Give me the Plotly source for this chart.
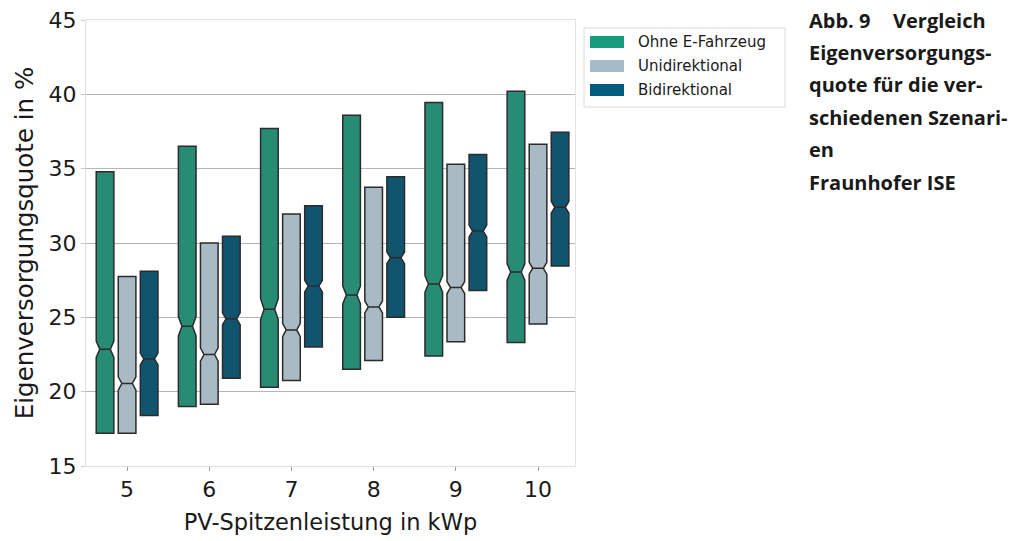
import plotly.graph_objects as go

# ---------------- data ----------------
categories = ["5", "6", "7", "8", "9", "10"]
series_names = ["Ohne E-Fahrzeug", "Unidirektional", "Bidirektional"]

ohne_min = [17.2, 19.0, 20.3, 21.5, 22.4, 23.3]
ohne_max = [34.8, 36.5, 37.7, 38.6, 39.45, 40.2]
ohne_med = [22.85, 24.4, 25.55, 26.5, 27.25, 28.05]
ohne_notch = [0.55, 0.65, 0.7, 0.6, 0.55, 0.55]

uni_min = [17.2, 19.15, 20.75, 22.1, 23.35, 24.55]
uni_max = [27.75, 30.0, 31.95, 33.75, 35.3, 36.65]
uni_med = [20.55, 22.5, 24.15, 25.7, 27.0, 28.3]
uni_notch = [0.45, 0.45, 0.45, 0.4, 0.4, 0.4]

bidi_min = [18.4, 20.9, 23.0, 25.0, 26.8, 28.45]
bidi_max = [28.1, 30.45, 32.5, 34.45, 35.95, 37.45]
bidi_med = [22.2, 24.9, 27.1, 29.0, 30.8, 32.4]
bidi_notch = [0.4, 0.4, 0.4, 0.4, 0.4, 0.4]

caption_lines = ["Eigenversorgungs-", "quote für die ver-",
                 "schiedenen Szenari-", "en", "Fraunhofer ISE"]

# ---------------- style ----------------
box_fill = ["#288b74", "#aabac4", "#10546f"]
legend_fill = ["#179c7d", "#a6bbc8", "#005b7f"]
W, H = 1011, 541
L, R, T, B = 86, 575, 20, 466


def px_x(px):
    return (px - L) / (R - L)


def px_y(py):
    return (B - py) / (B - T)


fig = go.Figure()
data = [
    (ohne_min, ohne_max, ohne_med, ohne_notch),
    (uni_min, uni_max, uni_med, uni_notch),
    (bidi_min, bidi_max, bidi_med, bidi_notch),
]
for i, (mn, mx, md, nt) in enumerate(data):
    fig.add_trace(go.Box(
        name=series_names[i],
        x=categories,
        q1=mn, q3=mx, median=md,
        lowerfence=mn, upperfence=mx,
        notchspan=nt, notched=True, notchwidth=0.2,
        fillcolor=box_fill[i],
        line=dict(color="#2b2b2b", width=1.5),
        boxpoints=False,
        whiskerwidth=0,
        showlegend=False,
        hoverinfo="skip",
    ))

fig.update_layout(
    width=W, height=H,
    margin=dict(l=L, r=W - R, t=T, b=H - B, autoexpand=False),
    paper_bgcolor="white", plot_bgcolor="white",
    boxmode="group", boxgap=0.195, boxgroupgap=0.2,
    font=dict(family="DejaVu Sans", color="#1a1a1a"),
)
fig.update_xaxes(
    type="category", range=[-0.5, 5.45],
    showgrid=False, showline=True, mirror=True, linecolor="#e3e3e3", linewidth=1,
    ticks="outside", ticklen=4, tickcolor="#9a9a9a",
    tickfont=dict(size=22, color="#1a1a1a"),
    title=dict(text="PV-Spitzenleistung in kWp", font=dict(size=22.5, color="#1a1a1a"), standoff=12),
)
fig.update_yaxes(
    range=[15, 45], tick0=15, dtick=5,
    showgrid=True, gridcolor="#b5b5b5", gridwidth=1, zeroline=False,
    showline=True, mirror=True, linecolor="#e3e3e3", linewidth=1,
    ticks="outside", ticklen=4, tickcolor="#c8c8c8",
    tickfont=dict(size=22, color="#1a1a1a"),
    title=dict(text="Eigenversorgungsquote in %", font=dict(size=24.5, color="#1a1a1a"), standoff=8),
)

# ---------------- legend (drawn manually) ----------------
shapes = [dict(type="rect", xref="paper", yref="paper",
               x0=px_x(584), x1=px_x(785), y0=px_y(107), y1=px_y(28),
               line=dict(color="#dadada", width=1), fillcolor="white")]
annotations = []
rows = [42, 66, 90]
for i, name in enumerate(series_names):
    shapes.append(dict(type="rect", xref="paper", yref="paper",
                       x0=px_x(590), x1=px_x(624), y0=px_y(rows[i] + 6), y1=px_y(rows[i] - 6),
                       line=dict(width=0), fillcolor=legend_fill[i]))
    annotations.append(dict(xref="paper", yref="paper", x=px_x(636), y=px_y(rows[i]),
                            xanchor="left", yanchor="middle", showarrow=False,
                            text=name, font=dict(family="DejaVu Sans", size=15, color="#1a1a1a")))

# ---------------- caption ----------------
cap_font = dict(family="Open Sans", size=20, color="#1a1a1a")
cap_y = [20, 52.5, 85, 117.5, 150, 182]
annotations.append(dict(xref="paper", yref="paper", x=px_x(807), y=px_y(cap_y[0]),
                        xanchor="left", yanchor="middle", showarrow=False,
                        text="<b>Abb. 9</b>", font=cap_font))
annotations.append(dict(xref="paper", yref="paper", x=px_x(988), y=px_y(cap_y[0]),
                        xanchor="right", yanchor="middle", showarrow=False,
                        text="<b>Vergleich</b>", font=cap_font))
for j, line in enumerate(caption_lines):
    annotations.append(dict(xref="paper", yref="paper", x=px_x(807), y=px_y(cap_y[j + 1]),
                            xanchor="left", yanchor="middle", showarrow=False,
                            text="<b>" + line + "</b>", font=cap_font))

fig.update_layout(shapes=shapes, annotations=annotations)
fig.write_html("out.html", config={"displayModeBar": False},
               post_script="document.body.style.margin='0px';")
